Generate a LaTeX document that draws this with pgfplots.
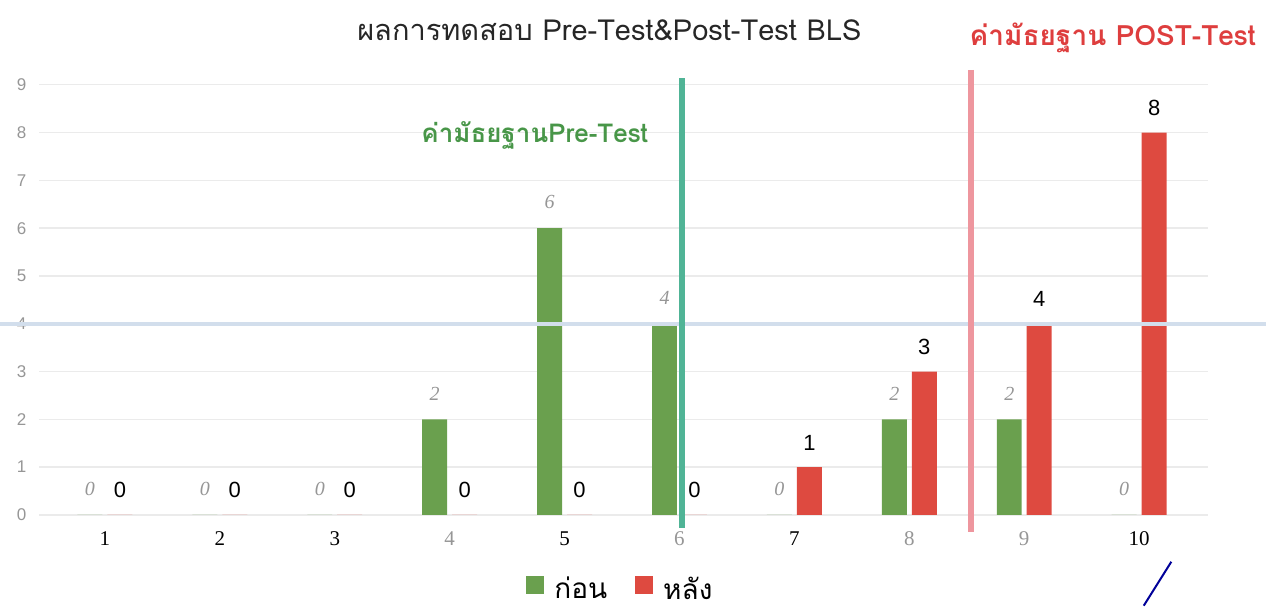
\documentclass[border=0pt]{standalone}
\usepackage{fontspec}
\setmainfont{Liberation Sans}
\newfontfamily\thai[Script=Thai]{Loma}
\newfontfamily\serif{Liberation Serif}
\usepackage{pgfplots}
\pgfplotsset{compat=1.18}
\definecolor{barG}{RGB}{106,160,78}
\definecolor{barR}{RGB}{222,74,64}
\definecolor{tealL}{RGB}{80,180,150}
\definecolor{pinkL}{RGB}{238,150,158}
\definecolor{txtG}{RGB}{72,150,72}
\definecolor{txtR}{RGB}{222,62,62}
\definecolor{hline}{RGB}{210,222,236}
\definecolor{tickG}{RGB}{150,150,150}
\pgfplotstableread{
x y
1 0
2 0
3 0
4 2
5 6
6 4
7 0
8 2
9 2
10 0
}\pre
\pgfplotstableread{
x y
1 0
2 0
3 0
4 0
5 0
6 0
7 1
8 3
9 4
10 8
}\post
\begin{document}
\begin{tikzpicture}
\begin{axis}[
  /pgf/number format/assume math mode=true,
  scale only axis, width=584.75pt, height=220pt,
  xmin=0.43, xmax=10.6, ymin=0, ymax=9.2,
  axis line style={draw=none}, major tick length=0pt,
  ymajorgrids, grid style={black!8, line width=0.7pt},
  ytick={0,...,9}, xtick={1,...,10},
  xticklabels={1,2,3,\textcolor{tickG}{4},5,\textcolor{tickG}{6},7,\textcolor{tickG}{8},\textcolor{tickG}{9},10},
  yticklabel style={font=\fontsize{8.5}{8.5}\selectfont, color=tickG, xshift=-3pt},
  xticklabel style={font=\serif\fontsize{10.5}{10.5}\selectfont, yshift=-5pt},
  clip=false,
  ybar=2.5pt, bar width=12.5pt,
  legend style={at={(0.498,-0.17)}, anchor=center, draw=none, fill=none, legend columns=2,
    font=\thai\fontsize{14}{14}\selectfont,
    /tikz/every odd column/.append style={column sep=3pt},
    /tikz/every even column/.append style={column sep=12pt}},
  legend image code/.code={\fill[#1,draw=none] (-2pt,-2pt) rectangle (7pt,7pt);},
]
\addplot[fill=barG, draw=none, nodes near coords,
  every node near coord/.append style={font=\serif\itshape\fontsize{10}{10}\selectfont, color=tickG, yshift=6pt}]
  table[x=x,y=y]{\pre};
\addplot[fill=barR, draw=none, nodes near coords,
  every node near coord/.append style={font=\fontsize{11}{11}\selectfont, color=black, yshift=5pt}]
  table[x=x,y=y]{\post};
\legend{ก่อน,หลัง}
\draw[hline, line width=1.8pt] (axis cs:0.087,4) -- (axis cs:11.104,4);
\draw[tealL, line width=3pt] (axis cs:6.02,9.14) -- (axis cs:6.02,-0.27);
\draw[pinkL, line width=3pt] (axis cs:8.54,9.31) -- (axis cs:8.54,-0.36);
\draw[blue!60!black, line width=1pt] (axis cs:10.04,-1.90) -- (axis cs:10.28,-0.98);
\node[font=\thai\fontsize{14.5}{14.5}\selectfont, color=black!85] at (axis cs:5.39,10.15) {ผลการทดสอบ Pre-Test\&Post-Test BLS};
\node[font=\thai\bfseries\fontsize{13}{13}\selectfont, color=txtG] at (axis cs:4.74,7.95) {ค่ามัธยฐานPre-Test};
\node[font=\thai\bfseries\fontsize{14}{14}\selectfont, color=txtR] at (axis cs:9.77,9.98) {ค่ามัธยฐาน POST-Test};
\coordinate (bl) at (axis cs:0.087,-1.967);
\coordinate (tr) at (axis cs:11.104,10.774);
\end{axis}
\pgfresetboundingbox
\path[use as bounding box] (bl) rectangle (tr);
\end{tikzpicture}
\end{document}
